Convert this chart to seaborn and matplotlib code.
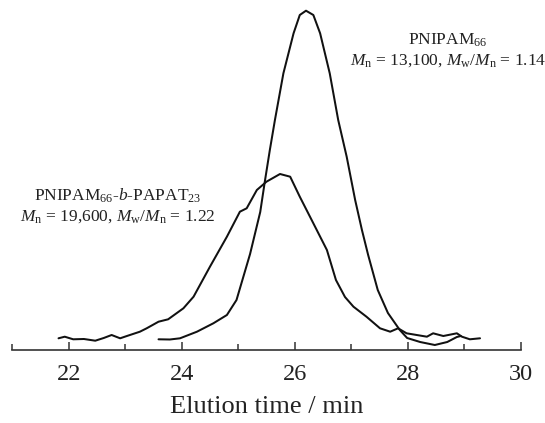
import numpy as np
import pandas as pd
import seaborn as sns
import matplotlib
matplotlib.use("Agg")
import matplotlib.pyplot as plt
from matplotlib.ticker import MultipleLocator

# Elution time (min) and detector response (arb. units)
t_homo = [23.59, 23.79, 23.97, 24.27, 24.56, 24.80, 24.97, 25.21, 25.39, 25.47,
          25.56, 25.65, 25.80, 25.98, 26.09, 26.20, 26.33, 26.45, 26.62, 26.77,
          26.92, 27.07, 27.19, 27.30, 27.47, 27.65, 27.86, 27.99, 28.22, 28.48,
          28.70, 28.87, 28.94]
i_homo = [10.7, 10.5, 11.7, 18.3, 26.7, 35.0, 50.0, 96.0, 138.0, 168.0,
          200.0, 230.0, 276.7, 316.7, 335.0, 339.3, 335.0, 316.7, 276.7, 230.0,
          193.3, 150.0, 120.0, 95.0, 60.0, 37.0, 20.0, 12.0, 8.0, 5.0,
          8.0, 13.0, 14.0]

t_block = [21.82, 21.93, 22.08, 22.27, 22.47, 22.62, 22.76, 22.91, 23.03, 23.26,
           23.38, 23.59, 23.76, 24.03, 24.21, 24.50, 24.80, 25.03, 25.15, 25.33,
           25.50, 25.74, 25.92, 26.09, 26.33, 26.57, 26.73, 26.89, 27.04, 27.27,
           27.51, 27.69, 27.83, 27.98, 28.16, 28.34, 28.45, 28.63, 28.87, 28.96,
           29.10, 29.28]
i_block = [11.7, 13.3, 10.7, 11.0, 9.3, 12.0, 15.0, 11.7, 14.0, 18.3,
           21.7, 28.3, 30.7, 41.7, 53.3, 83.3, 113.3, 138.3, 141.7, 160.0,
           168.3, 176.0, 173.3, 153.3, 126.7, 100.0, 70.0, 53.0, 43.3, 33.3,
           21.7, 18.3, 21.7, 16.7, 15.0, 13.3, 16.7, 14.0, 16.7, 13.3,
           10.7, 11.7]

x_ticks = [22, 24, 26, 28, 30]
x_label = "Elution time / min"
label_homo = ["PNIPAM$_{66}$",
              r"$M_{\rm n}$ = 13,100, $M_{\rm w}$/$M_{\rm n}$ = 1.14"]
label_block = [r"PNIPAM$_{66}$-$b$-PAPAT$_{23}$",
               r"$M_{\rm n}$ = 19,600, $M_{\rm w}$/$M_{\rm n}$ = 1.22"]

df = pd.concat([
    pd.DataFrame({"t": t_homo, "I": i_homo, "s": "homo"}),
    pd.DataFrame({"t": t_block, "I": i_block, "s": "block"}),
])

sns.set_theme(style="white")
plt.rcParams["font.family"] = ["Liberation Serif", "DejaVu Serif"]
plt.rcParams["mathtext.fontset"] = "custom"
plt.rcParams["mathtext.rm"] = "Liberation Serif"
plt.rcParams["mathtext.it"] = "Liberation Serif:italic"
plt.rcParams["mathtext.bf"] = "Liberation Serif:bold"

fig = plt.figure(figsize=(5.45, 4.23), dpi=100)
ax = fig.add_axes([12.2 / 545, 73 / 423, (520.7 - 12.2) / 545, 345 / 423])

sns.lineplot(data=df, x="t", y="I", units="s", estimator=None, sort=False,
             color="#111111", linewidth=1.45, ax=ax, legend=False)

ax.set_xlim(21, 30)
ax.set_ylim(0, 345)
for side in ["left", "right", "top"]:
    ax.spines[side].set_visible(False)
ax.spines["bottom"].set_color("#333333")
ax.spines["bottom"].set_linewidth(1.2)
ax.set_yticks([])
ax.set_ylabel("")
ax.set_xticks(x_ticks)
ax.xaxis.set_minor_locator(MultipleLocator(1))
ax.tick_params(axis="x", which="major", direction="in", length=6, width=1.1,
               color="#333333", labelsize=17.5, pad=10, labelcolor="#222222",
               bottom=True)
ax.tick_params(axis="x", which="minor", direction="in", length=4, width=1.1,
               color="#333333", bottom=True)
ax.set_xlabel(x_label, fontsize=19, color="#222222", labelpad=8)

ax.text(28.71, 305, label_homo[0], ha="center", va="baseline", fontsize=12.5,
        color="#222222")
ax.text(28.71, 285, label_homo[1], ha="center", va="baseline", fontsize=12.5,
        color="#222222")
ax.text(22.87, 149, label_block[0], ha="center", va="baseline", fontsize=12.5,
        color="#222222")
ax.text(22.87, 129, label_block[1], ha="center", va="baseline", fontsize=12.5,
        color="#222222")

fig.savefig("out.png", dpi=100)
